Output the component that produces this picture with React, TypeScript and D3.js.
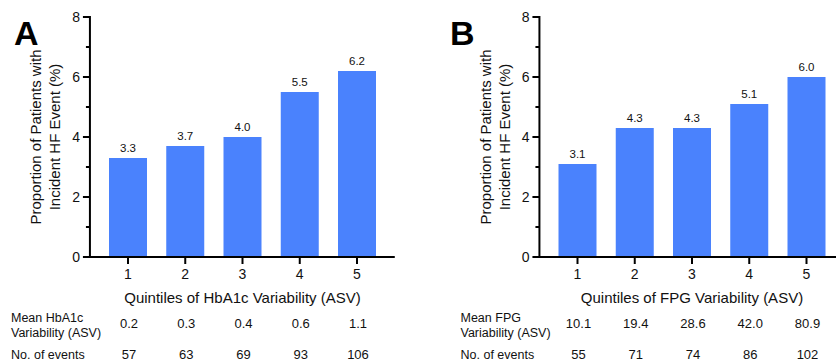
import React from "react";
import * as d3 from "d3";

const quintiles = [1, 2, 3, 4, 5];
const hbaValues = [3.3, 3.7, 4.0, 5.5, 6.2];
const fpgValues = [3.1, 4.3, 4.3, 5.1, 6.0];
const hbaMeans = ["0.2", "0.3", "0.4", "0.6", "1.1"];
const fpgMeans = ["10.1", "19.4", "28.6", "42.0", "80.9"];
const hbaEvents = ["57", "63", "69", "93", "106"];
const fpgEvents = ["55", "71", "74", "86", "102"];
const yMajorTicks = [0, 2, 4, 6, 8];
const yMinorTicks = [1, 3, 5, 7];

const FONT = "'Liberation Sans', Arial, Helvetica, sans-serif";
const BAR = "#4a82fd";

type PanelProps = {
  dx: number;
  letter: string;
  letterX: number;
  values: number[];
  means: string[];
  events: string[];
  xTitle: string;
  meanLabel: string[];
};

function Panel({ dx, letter, letterX, values, means, events, xTitle, meanLabel }: PanelProps) {
  const x = d3.scaleLinear().domain([1, 5]).range([128 + dx, 357 + dx]);
  const y = d3.scaleLinear().domain([0, 8]).range([257, 17]);
  const axisX0 = x(0.335);
  const axisX1 = x(5.66);
  const barW = 38;
  return (
    <g fontFamily={FONT} fill="#111">
      <text x={letterX} y={45} fontSize={34} fontWeight="bold" fill="#000">{letter}</text>
      {quintiles.map((q, i) => (
        <g key={q}>
          <rect x={x(q) - barW / 2} y={y(values[i])} width={barW} height={y(0) - y(values[i])} fill={BAR} />
          <text x={x(q)} y={y(values[i]) - 6} fontSize={11.5} textAnchor="middle">{values[i].toFixed(1)}</text>
        </g>
      ))}
      {/* y axis */}
      <line x1={axisX0} x2={axisX0} y1={y(8) - 1} y2={y(0) + 1} stroke="#000" strokeWidth={2} />
      {yMajorTicks.map((t) => (
        <g key={t}>
          <line x1={axisX0 - 7} x2={axisX0} y1={y(t)} y2={y(t)} stroke="#000" strokeWidth={2} />
          <text x={axisX0 - 10} y={y(t) + 5} fontSize={14} textAnchor="end">{t}</text>
        </g>
      ))}
      {yMinorTicks.map((t) => (
        <line key={t} x1={axisX0 - 4} x2={axisX0} y1={y(t)} y2={y(t)} stroke="#000" strokeWidth={2} />
      ))}
      {/* x axis */}
      <line x1={axisX0 - 1} x2={axisX1} y1={y(0)} y2={y(0)} stroke="#000" strokeWidth={2} />
      {quintiles.map((q) => (
        <g key={q}>
          <line x1={x(q)} x2={x(q)} y1={y(0)} y2={y(0) + 7} stroke="#000" strokeWidth={2} />
          <text x={x(q)} y={279} fontSize={14} textAnchor="middle">{q}</text>
        </g>
      ))}
      <text x={x(3)} y={302.5} fontSize={15} textAnchor="middle">{xTitle}</text>
      {/* y title */}
      <text transform={`translate(${41 + dx},137) rotate(-90)`} fontSize={15} textAnchor="middle">Proportion of Patients with</text>
      <text transform={`translate(${60 + dx},137) rotate(-90)`} fontSize={15} textAnchor="middle">Incident HF Event (%)</text>
      {/* table */}
      <text x={11 + dx} y={321.5} fontSize={12.5}>{meanLabel[0]}</text>
      <text x={11 + dx} y={336.5} fontSize={12.5}>{meanLabel[1]}</text>
      <text x={11 + dx} y={358.5} fontSize={12.5}>No. of events</text>
      {quintiles.map((q, i) => (
        <g key={q}>
          <text x={x(q) + 1} y={327.5} fontSize={13} textAnchor="middle">{means[i]}</text>
          <text x={x(q) + 1} y={358.5} fontSize={13} textAnchor="middle">{events[i]}</text>
        </g>
      ))}
    </g>
  );
}

export default function App() {
  return (
    <svg width={836} height={362} style={{ position: "absolute", left: 0, top: 0, background: "#fff" }}>
      <rect width={836} height={362} fill="#fff" />
      <Panel dx={0} letter="A" letterX={14} values={hbaValues} means={hbaMeans} events={hbaEvents}
        xTitle="Quintiles of HbA1c Variability (ASV)" meanLabel={["Mean HbA1c", "Variability (ASV)"]} />
      <Panel dx={449.5} letter="B" letterX={450} values={fpgValues} means={fpgMeans} events={fpgEvents}
        xTitle="Quintiles of FPG Variability (ASV)" meanLabel={["Mean FPG", "Variability (ASV)"]} />
    </svg>
  );
}
